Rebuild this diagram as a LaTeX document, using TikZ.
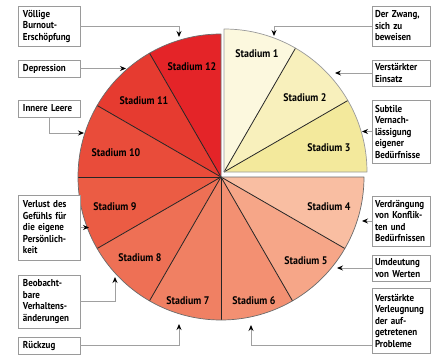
\documentclass[tikz,border=0pt]{standalone}
\usepackage{fontspec}
\setmainfont{PT Sans}[FakeStretch=0.9]
\usetikzlibrary{arrows.meta}

\definecolor{s1}{HTML}{FCF8DE}
\definecolor{s2}{HTML}{F8F0BC}
\definecolor{s3}{HTML}{F3E99C}
\definecolor{s4}{HTML}{F9BEA2}
\definecolor{s5}{HTML}{F6A688}
\definecolor{s6}{HTML}{F39072}
\definecolor{s7}{HTML}{F08063}
\definecolor{s8}{HTML}{EE7055}
\definecolor{s9}{HTML}{EB5C44}
\definecolor{s10}{HTML}{E94C3A}
\definecolor{s11}{HTML}{E63B30}
\definecolor{s12}{HTML}{E42428}
\definecolor{boxgray}{HTML}{9A9A9A}
\definecolor{leadgray}{HTML}{A0A0A0}
\definecolor{rimgray}{HTML}{6A6A6A}

\begin{document}
\begin{tikzpicture}[x=1pt,y=-1pt,
  callout/.style={draw=boxgray, fill=white, line width=0.8pt, align=left,
    font=\bfseries\fontsize{10}{11.5}\selectfont, inner ysep=0pt, text width=52pt},
  leftbox/.style={callout, inner xsep=5pt},
  rightbox/.style={callout, inner xsep=3pt},
  lead/.style={draw=leadgray, line width=0.8pt,
    -{Stealth[length=6pt,width=5pt,inset=2pt,color=black]}},
  stage/.style={font=\bfseries\fontsize{11}{13}\selectfont, inner sep=0pt},
  divider/.style={draw=black!85, line width=0.8pt},
  rim/.style={draw=rimgray, line width=0.7pt, line join=round}]

\useasboundingbox (0,0) rectangle (431,356);
\fill[white] (0,0) rectangle (431,356);

% centres of the main pie and of the offset first quarter
\coordinate (c) at (221,177);
\coordinate (q) at (224,172);

% stages 4 to 12
\foreach \k in {4,...,12}{
  \fill[s\k] (c) -- ++({90-30*(\k-1)}:143pt)
    arc[start angle={90-30*(\k-1)}, end angle={90-30*\k}, radius=143pt] -- cycle;
}
\foreach \a in {-30,-60,-90,-120,-150,180,150,120}{
  \draw[divider] (c) -- ++(\a:143pt);
}
\draw[rim] (c) -- ++(0:143pt) arc[start angle=0, end angle=-270, radius=143pt] -- cycle;

% stages 1 to 3
\foreach \k in {1,2,3}{
  \fill[s\k] (q) -- ++({90-30*(\k-1)}:143pt)
    arc[start angle={90-30*(\k-1)}, end angle={90-30*\k}, radius=143pt] -- cycle;
}
\foreach \a in {60,30}{
  \draw[divider] (q) -- ++(\a:143pt);
}
\draw[rim, draw=boxgray] (q) -- ++(90:143pt) arc[start angle=90, end angle=0, radius=143pt] -- cycle;

% stage labels
\node[stage] (l1) at (257,54) {Stadium 1};
\node[stage] (l2) at (305,98) {Stadium 2};
\node[stage] (l3) at (329,148) {Stadium 3};
\node[stage] (l4) at (329,207) {Stadium 4};
\node[stage] (l5) at (306,261) {Stadium 5};
\node[stage] (l6) at (254,301) {Stadium 6};
\node[stage] (l7) at (188,301) {Stadium 7};
\node[stage] (l8) at (140,258) {Stadium 8};
\node[stage] (l9) at (115,207) {Stadium 9};
\node[stage] (l10) at (116,153) {Stadium 10};
\node[stage] (l11) at (144,101) {Stadium 11};
\node[stage] (l12) at (192,67) {Stadium 12};

% callouts on the left
\node[leftbox, minimum height=40pt] (vb) at (49,26) {Völlige\\Burnout-\\Erschöpfung};
\node[leftbox, minimum height=17pt] (dep) at (49,68.5) {Depression};
\node[leftbox, minimum height=17pt] (il) at (49,108.5) {Innere Leere};
\node[leftbox, minimum height=65pt] (vl) at (49,227.5) {Verlust des\\Gefühls für\\die eigene\\Persönlich-\\keit};
\node[leftbox, minimum height=53pt] (bv) at (49,301.5) {Beobacht-\\bare\\Verhaltens-\\änderungen};
\node[leftbox, minimum height=17pt] (rz) at (49,345.5) {Rückzug};

% callouts on the right
\node[rightbox, minimum height=40pt] (dz) at (401,26) {Der Zwang,\\sich zu\\beweisen};
\node[rightbox, minimum height=26pt] (ve) at (401,73) {Verstärkter\\Einsatz};
\node[rightbox, minimum height=63pt] (sv) at (401,131.5) {Subtile\\Vernach-\\lässigung\\eigener\\Bedürfnisse};
\node[rightbox, minimum height=50pt] (vd) at (401,221) {Verdrängung\\von Konflik-\\ten und\\Bedürfnissen};
\node[rightbox, minimum height=26pt] (ud) at (401,268) {Umdeutung\\von Werten};
\node[rightbox, minimum height=65pt] (vv) at (401,320.5) {Verstärkte\\Verleugnung\\der auf-\\getretenen\\Probleme};

% arrow targets on the rim
\coordinate (tvb) at (179,37);
\coordinate (tdep) at (126,68.5);
\coordinate (til) at (84,133);
\coordinate (tvl) at (89,227.5);
\coordinate (tbv) at (115,277);
\coordinate (trz) at (179,324);
\coordinate (tdz) at (274,36);
\coordinate (tve) at (335,73);
\coordinate (tsv) at (362,131.5);
\coordinate (tvd) at (362,221);
\coordinate (tud) at (337,268);
\coordinate (tvv) at (251,325);
\coordinate (vvout) at (372,345);

% leader lines
\draw[lead] (vb.east) -| (tvb);
\draw[lead] (dep.east) -- (tdep);
\draw[lead] (il.south) |- (til);
\draw[lead] (vl.east) -- (tvl);
\draw[lead] (bv.east) -| (tbv);
\draw[lead] (rz.east) -| (trz);
\draw[lead] (dz.west) -| (tdz);
\draw[lead] (ve.west) -- (tve);
\draw[lead] (sv.west) -- (tsv);
\draw[lead] (vd.west) -- (tvd);
\draw[lead] (ud.west) -- (tud);
\draw[lead] (vvout) -| (tvv);
\end{tikzpicture}
\end{document}
